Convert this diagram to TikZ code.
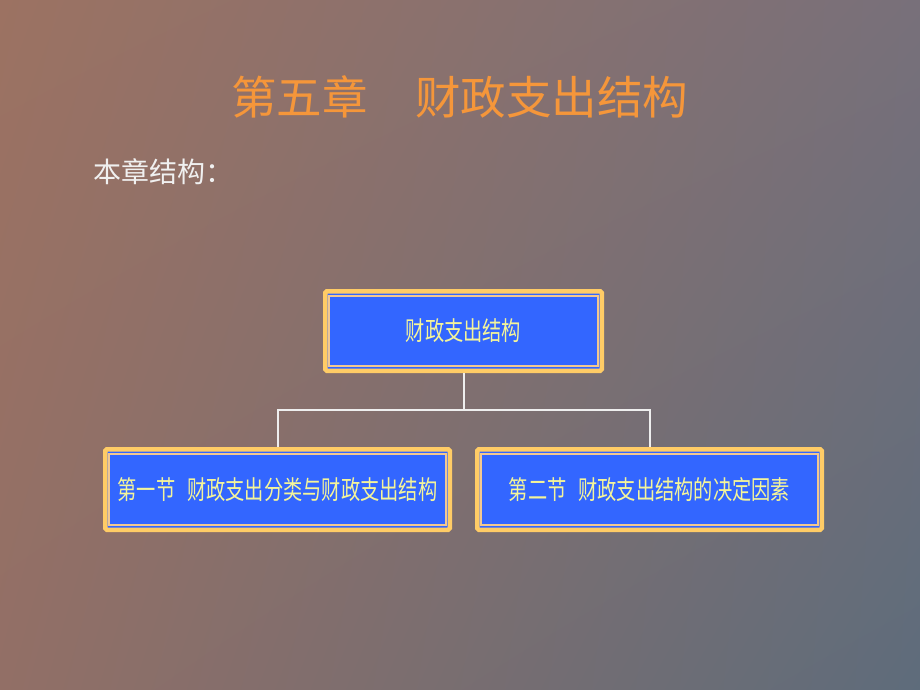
\documentclass[tikz,border=0pt]{standalone}
\usepackage{fontspec}
\usetikzlibrary{shadings}
\newfontfamily\cjk{Noto Sans CJK SC}
\newfontfamily\cjknarrow[FakeStretch=0.74]{Noto Sans CJK SC}
\definecolor{bgUL}{HTML}{9C7262}
\definecolor{bgUR}{HTML}{78707A}
\definecolor{bgLL}{HTML}{926F66}
\definecolor{bgLR}{HTML}{5E6C7B}
\definecolor{titleorange}{HTML}{F5963A}
\definecolor{boxyellow}{HTML}{FFCC66}
\definecolor{boxblue}{HTML}{3366FF}
\definecolor{innerline}{HTML}{F2C890}
\definecolor{boxtext}{HTML}{F4F49A}
\definecolor{connwhite}{HTML}{EEEEEE}
\tikzset{
  chartbox/.style={draw=boxyellow, line width=4.5pt, fill=boxblue, rounded corners=1.5pt,
    inner sep=0pt, text=boxtext, font=\cjknarrow\fontsize{26}{30}\selectfont},
  innerframe/.style={draw=innerline, line width=2pt},
  conn/.style={draw=connwhite, line width=2pt}
}
\begin{document}
\begin{tikzpicture}[x=1pt,y=-1pt]
\useasboundingbox (0,0) rectangle (920,690);
\shade[upper left=bgUL, upper right=bgUR, lower left=bgLL, lower right=bgLR] (0,0) rectangle (920,690);
\node[text=titleorange, font=\cjk\fontsize{45.5}{50}\selectfont, anchor=west, inner sep=0pt] (title) at (231,97) {第五章\hspace{1.05em}财政支出结构};
\node[text=white!94!black, font=\cjk\fontsize{28}{32}\selectfont, anchor=west, inner sep=0pt] (sub) at (93,172) {本章结构：};
\node[chartbox, minimum width=276.5pt, minimum height=79.5pt] (top) at (463.5,331) {财政支出结构};
\node[chartbox, minimum width=344.5pt, minimum height=80.5pt] (left) at (277.5,489.5) {第一节\hspace{0.45em}财政支出分类与财政支出结构};
\node[chartbox, minimum width=344.5pt, minimum height=80.5pt] (right) at (649.5,489.5) {第二节\hspace{0.45em}财政支出结构的决定因素};
\foreach \n in {top,left,right}{
  \draw[innerframe] ([xshift=6pt,yshift=-7pt]\n.north west) rectangle ([xshift=-6pt,yshift=7pt]\n.south east);
}
\coordinate (bus) at (463.5,410);
\draw[conn] (top.south) -- (bus);
\draw[conn] (bus) -| (left.north);
\draw[conn] (bus) -| (right.north);
\end{tikzpicture}
\end{document}
